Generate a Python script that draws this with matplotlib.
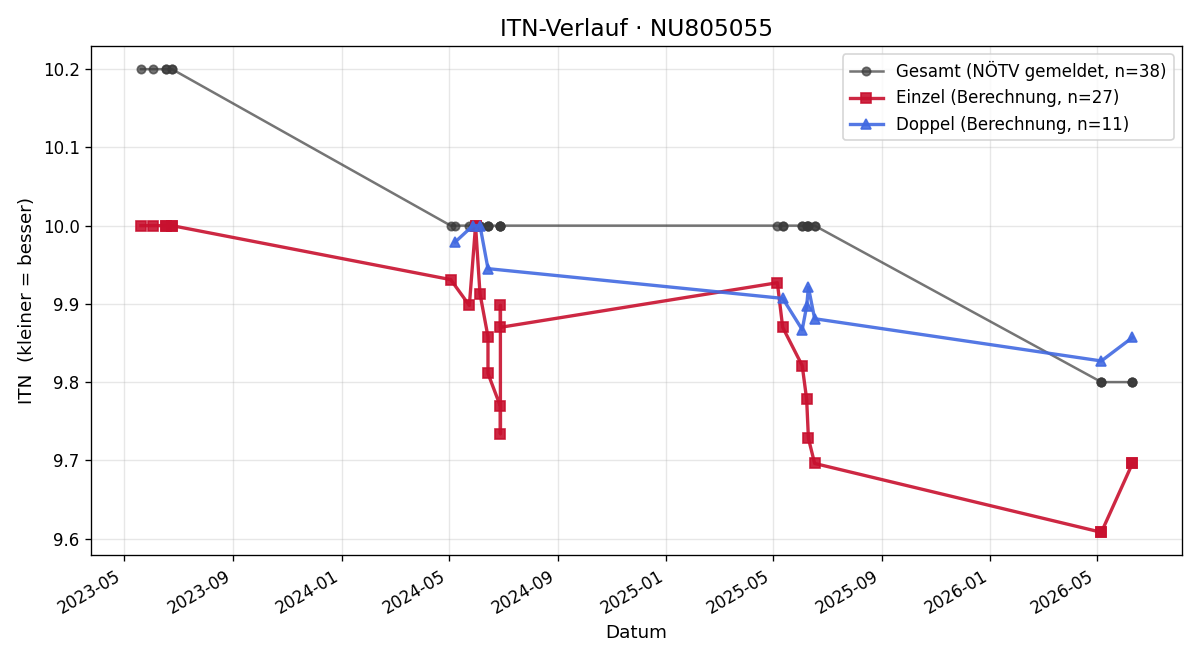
import matplotlib
matplotlib.use('Agg')
import matplotlib.pyplot as plt
import matplotlib.dates as mdates
import pandas as pd

einzel_dates = [
    '2023-05-20', '2023-06-03', '2023-06-17', '2023-06-17', '2023-06-24', '2023-06-24',
    '2024-05-03', '2024-05-24', '2024-05-31', '2024-05-31', '2024-06-05', '2024-06-14',
    '2024-06-14', '2024-06-28', '2024-06-28', '2024-06-28', '2024-06-28',
    '2025-05-06', '2025-05-12', '2025-06-03', '2025-06-08', '2025-06-10', '2025-06-17',
    '2026-05-06', '2026-05-06', '2026-06-10', '2026-06-10',
]
einzel_itn = [
    10.0, 10.0, 10.0, 10.0, 10.0, 10.0,
    9.931, 9.898, 10.0, 10.0, 9.913, 9.858,
    9.811, 9.769, 9.734, 9.898, 9.870,
    9.927, 9.870, 9.821, 9.778, 9.728, 9.696,
    9.608, 9.608, 9.696, 9.696,
]

doppel_dates = [
    '2024-05-08', '2024-05-28', '2024-06-05', '2024-06-14',
    '2025-05-12', '2025-06-03', '2025-06-08', '2025-06-10', '2025-06-17',
    '2026-05-06', '2026-06-10',
]
doppel_itn = [
    9.979, 10.0, 10.0, 9.945,
    9.907, 9.867, 9.897, 9.921, 9.881,
    9.827, 9.857,
]

# Gesamt = alle Spiele (Einzel + Doppel), chronologisch
gesamt_dates = sorted(einzel_dates + doppel_dates)
gesamt_itn = [
    10.2, 10.2, 10.2, 10.2, 10.2, 10.2,
    10.0, 10.0, 10.0, 10.0, 10.0, 10.0, 10.0, 10.0, 10.0, 10.0, 10.0, 10.0, 10.0, 10.0, 10.0,
    10.0, 10.0, 10.0, 10.0, 10.0, 10.0, 10.0, 10.0, 10.0, 10.0, 10.0,
    9.8, 9.8, 9.8, 9.8, 9.8, 9.8,
]

fig, ax = plt.subplots(figsize=(10, 5.5), dpi=120)

ax.plot(pd.to_datetime(gesamt_dates), gesamt_itn, color='#3a3a3a', alpha=0.7,
        marker='o', markersize=5, linewidth=1.5,
        label=f'Gesamt (NÖTV gemeldet, n={len(gesamt_itn)})')
ax.plot(pd.to_datetime(einzel_dates), einzel_itn, color='#c8102e', alpha=0.9,
        marker='s', markersize=6, linewidth=2,
        label=f'Einzel (Berechnung, n={len(einzel_itn)})')
ax.plot(pd.to_datetime(doppel_dates), doppel_itn, color='#4169e1', alpha=0.9,
        marker='^', markersize=6, linewidth=2,
        label=f'Doppel (Berechnung, n={len(doppel_itn)})')

ax.set_title('ITN-Verlauf · NU805055', fontsize=14)
ax.set_xlabel('Datum', fontsize=11)
ax.set_ylabel('ITN  (kleiner = besser)', fontsize=11)
ax.grid(True, alpha=0.3)
ax.xaxis.set_major_locator(mdates.MonthLocator(bymonth=[1, 5, 9]))
ax.xaxis.set_major_formatter(mdates.DateFormatter('%Y-%m'))
ax.legend(loc='upper right')
fig.autofmt_xdate()
plt.tight_layout()
plt.savefig('out.png')
